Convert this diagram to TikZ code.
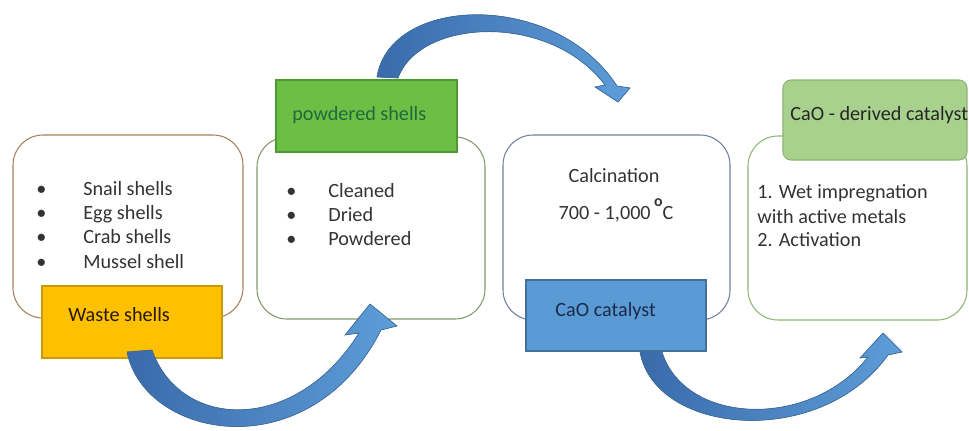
\documentclass[tikz,border=0pt]{standalone}
\usepackage{fontspec}
\setmainfont{Carlito}

\definecolor{itemgray}{HTML}{333333}
\definecolor{wasteyel}{HTML}{FFC000}
\definecolor{wasteedge}{HTML}{C99A06}
\definecolor{powdgreen}{HTML}{6DBE45}
\definecolor{powdedge}{HTML}{4E9A30}
\definecolor{powdtext}{HTML}{1F6A3C}
\definecolor{caoblue}{HTML}{5B9BD5}
\definecolor{caoedge}{HTML}{41719C}
\definecolor{caotext}{HTML}{1C2A4A}
\definecolor{derivgreen}{HTML}{A9D18E}
\definecolor{derivedge}{HTML}{8DB573}
\definecolor{calcedge}{HTML}{6F7F9F}
\definecolor{arrowdark}{HTML}{3A6BAA}
\definecolor{arrowlight}{HTML}{5D9DD8}
\definecolor{arrowline}{HTML}{3F6E9E}

\begin{document}
\begin{tikzpicture}[x=0.02cm,y=-0.02cm,
  every node/.style={font=\fontsize{11.5}{13.8}\selectfont, inner sep=0pt},
  panel/.style={line width=0.6pt, rounded corners=0.6cm},
  tag/.style={line width=0.6pt},
  item/.style={anchor=base west, text=itemgray},
  flowarrow/.style={draw=arrowline, line width=0.4pt, left color=arrowdark, right color=arrowlight}]
\useasboundingbox (0,0) rectangle (969,430);

% the four stage panels
\draw[panel, draw=brown!60!gray] (13,135) rectangle (243,318);
\draw[panel, draw=olive!45!green!40!gray] (257,137) rectangle (485,319);
\draw[panel, draw=calcedge] (503,135) rectangle (730,320);
\draw[panel, draw=derivedge] (748,136) rectangle (967,320);

% panel 1: shell sources
\foreach \txt [count=\i] in {Snail shells, Egg shells, Crab shells, Mussel shell} {
  \node[item] (src\i) at (83,171+24.3*\i) {\txt};
  \node[item] (srcb\i) at (36,171+24.3*\i) {\textbullet};
}

% panel 2: preparation steps
\foreach \txt [count=\i] in {Cleaned, Dried, Powdered} {
  \node[item] (prep\i) at (328,173+24*\i) {\txt};
  \node[item] (prepb\i) at (286,173+24*\i) {\textbullet};
}

% panel 3: calcination
\node[anchor=base, text=itemgray] (calc) at (614,182) {Calcination};
\node[anchor=base, text=itemgray] (temp) at (616,219)
  {700 - 1,000\,\raisebox{1.3ex}{\fontsize{9}{9}\selectfont\bfseries o}C};

% panel 4: modification
\node[item] (mod1) at (757,198) {1. Wet impregnation};
\node[item] (mod2) at (757,223) {with active metals};
\node[item] (mod3) at (757,246) {2. Activation};

% coloured tags
\draw[tag, fill=wasteyel, draw=wasteedge] (42,286) rectangle (222,358);
\node[item, text=black!80!brown] (waste) at (68,321) {Waste shells};
\draw[tag, fill=powdgreen, draw=powdedge] (276,80) rectangle (457,152);
\node[item, text=powdtext] (powd) at (292,120) {powdered shells};
\draw[tag, fill=caoblue, draw=caoedge] (526,280) rectangle (706,351);
\node[item, text=caotext] (cao) at (555,316) {CaO catalyst};
\draw[tag, fill=derivgreen, draw=derivedge, rounded corners=0.16cm] (783,80) rectangle (967,160);
\node[item, text=black!85] (deriv) at (790,120) {CaO - derived catalyst};

% curved block arrows
\filldraw[flowarrow] (127,352) .. controls (145,440) and (310,470) .. (381,330)
  -- (397,326) -- (370,304) -- (345,335) -- (359,333)
  .. controls (295,435) and (180,430) .. (152,350) -- cycle;
\filldraw[flowarrow] (377,77) .. controls (390,-5) and (555,-10) .. (617,86)
  -- (630,88) -- (618,102) -- (595,87) -- (605,85)
  .. controls (550,12) and (420,18) .. (398,78) -- cycle;
\filldraw[flowarrow] (640,352) .. controls (655,435) and (820,450) .. (888,355)
  -- (902,352) -- (883,333) -- (860,358) -- (868,357)
  .. controls (810,430) and (685,425) .. (662,352) -- cycle;
\end{tikzpicture}
\end{document}
